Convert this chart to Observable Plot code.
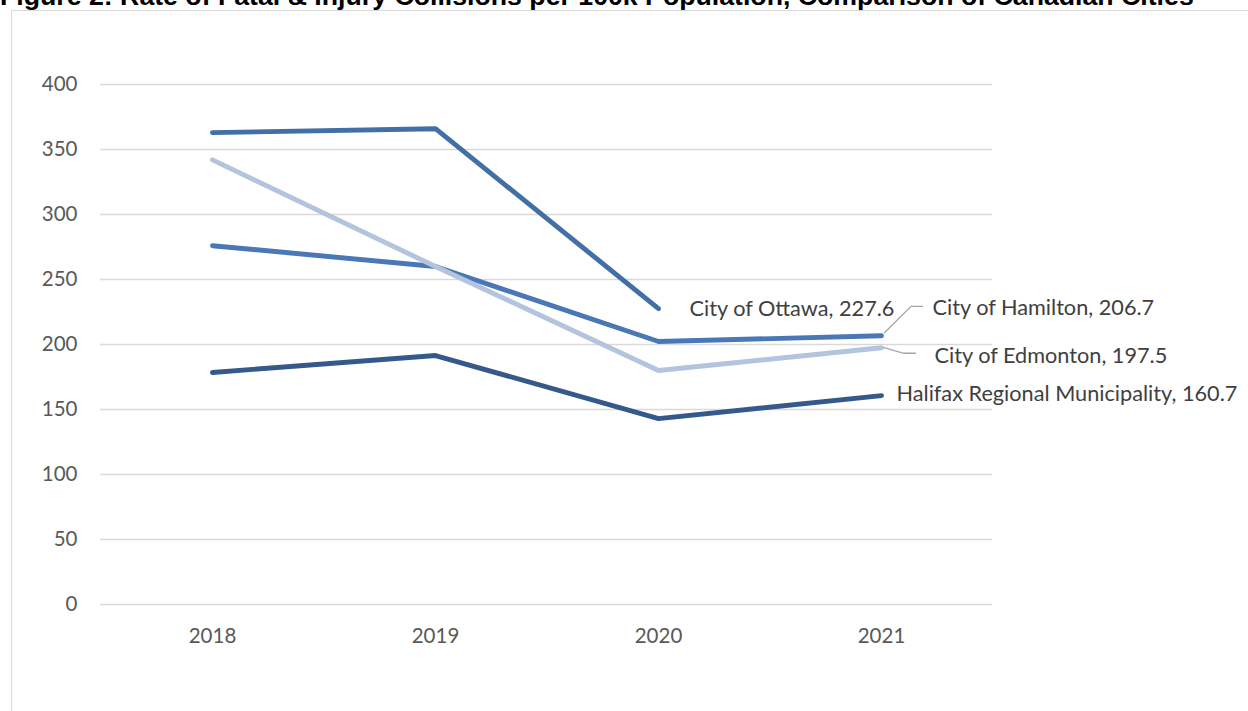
<!DOCTYPE html>
<html>
<head>
<meta charset="utf-8">
<script src="https://cdn.jsdelivr.net/npm/d3@7"></script>
<script src="https://cdn.jsdelivr.net/npm/@observablehq/plot@0.6"></script>
<style>
  html, body { margin: 0; padding: 0; background: #fff; overflow: hidden; }
  #wrap { position: relative; width: 1248px; height: 711px; overflow: hidden; }
  #title { position: absolute; left: 0px; top: -17px; font: bold 26.7px "Liberation Sans", Arial, sans-serif; line-height: 27px; color: #000; white-space: nowrap; }
  #box { position: absolute; left: 11px; top: 10px; width: 1400px; height: 900px; border: 1.6px solid #d9d9d9; box-sizing: border-box; }
  #chart { position: absolute; left: 0; top: 0; }
</style>
</head>
<body>
<div id="wrap">
  <div id="box"></div>
  <div id="title">Figure 2: Rate of Fatal &amp; Injury Collisions per 100k Population, Comparison of Canadian Cities</div>
  <div id="chart"></div>
</div>
<script>
const years = ["2018", "2019", "2020", "2021"];
const cities = ["City of Edmonton", "City of Hamilton", "City of Ottawa", "Halifax Regional Municipality"];
const edmonton = [342, 260, 180, 197.5];
const hamilton = [276, 260, 202.3, 206.7];
const ottawa = [363, 366, 227.6, null];
const halifax = [178.5, 191.5, 143, 160.7];
const yTicks = [0, 50, 100, 150, 200, 250, 300, 350, 400];
const colors = ["#b4c4df", "#4a78b6", "#426fa6", "#34598a"];

const seriesValues = [edmonton, hamilton, ottawa, halifax];
const rows = [];
cities.forEach((c, i) => years.forEach((y, j) => {
  if (seriesValues[i][j] != null) rows.push({city: c, year: y, value: seriesValues[i][j]});
}));

// last value of each series gets a data label
const lastPoints = cities.map((c, i) => {
  const vals = seriesValues[i];
  let j = vals.length - 1;
  while (vals[j] == null) j--;
  return {city: c, year: years[j], value: vals[j]};
});
// label placement (pixel offsets from the point) and leader-line shapes
const labelStyle = {
  "City of Edmonton": {dx: 53, dy: 8, leader: [[2, 0], [23, 6], [35, 6]]},
  "City of Hamilton": {dx: 51, dy: -28, leader: [[3, -2], [30, -29], [42, -29]]},
  "City of Ottawa": {dx: 31, dy: 0, leader: null},
  "Halifax Regional Municipality": {dx: 15, dy: -2, leader: null}
};

const font = "Lato, 'Noto Sans', sans-serif";

const chart = Plot.plot({
  width: 1248,
  height: 711,
  marginLeft: 100,
  marginRight: 256,
  marginTop: 84,
  marginBottom: 107,
  style: {background: "transparent", fontFamily: font, fontSize: "20.5px", color: "#595959", overflow: "visible"},
  x: {type: "point", domain: years, padding: 0.5, label: null},
  y: {domain: [0, 400], label: null},
  color: {domain: cities, range: colors},
  marks: [
    Plot.ruleY(yTicks, {stroke: "#d9d9d9", strokeWidth: 1.6}),
    Plot.axisY({ticks: yTicks, tickSize: 0, tickPadding: 23, fontSize: 20.5, fill: "#595959"}),
    Plot.axisX({tickSize: 0, tickPadding: 24, fontSize: 20.5, fill: "#595959"}),
    ...["City of Ottawa", "Halifax Regional Municipality", "City of Hamilton", "City of Edmonton"].map(c =>
      Plot.line(rows.filter(d => d.city === c), {
        x: "year", y: "value", stroke: colors[cities.indexOf(c)],
        strokeWidth: 4.9, strokeLinecap: "round", strokeLinejoin: "round"
      })
    ),
    // leader lines
    Plot.dot(lastPoints.filter(d => labelStyle[d.city].leader), {
      x: "year", y: "value", r: 0,
      render: (index, scales, values, dims, context) => {
        const g = d3.create("svg:g");
        const data = lastPoints.filter(d => labelStyle[d.city].leader);
        for (const i of index) {
          const d = data[i];
          const px = scales.x(d.year), py = scales.y(d.value);
          const pts = labelStyle[d.city].leader.map(([ox, oy]) => [px + ox, py + oy]);
          g.append("path").attr("d", d3.line()(pts)).attr("fill", "none")
            .attr("stroke", "#a6a6a6").attr("stroke-width", 1.3);
        }
        return g.node();
      }
    }),
    ...lastPoints.map(d => Plot.text([d], {
      x: "year", y: "value",
      text: p => `${p.city}, ${p.value.toFixed(1)}`,
      textAnchor: "start", dx: labelStyle[d.city].dx, dy: labelStyle[d.city].dy,
      fill: "#404040", fontSize: 21.7, fontFamily: font
    }))
  ]
});
document.getElementById("chart").appendChild(chart);
</script>
</body>
</html>
